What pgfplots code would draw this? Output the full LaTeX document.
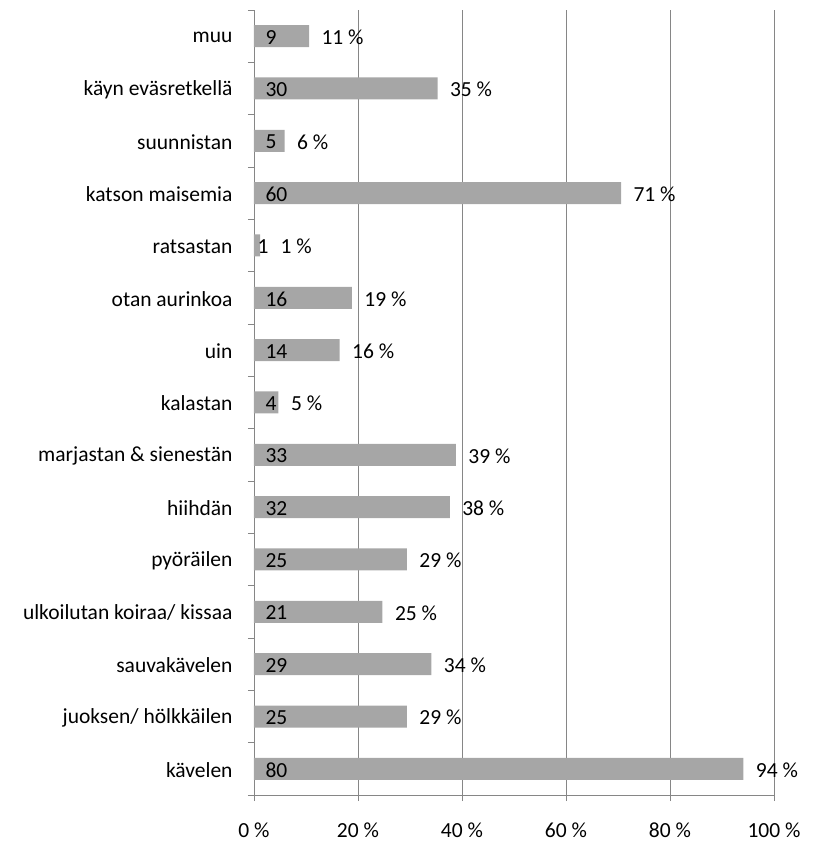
\documentclass[border=0pt]{standalone}
\usepackage{pgfplots}
\pgfplotsset{compat=1.18}
\usepackage{pgfplotstable}
\usepackage{fontspec}
\setmainfont{Carlito}
\definecolor{barg}{RGB}{166,166,166}
\definecolor{axg}{RGB}{134,134,134}
\pgfplotstableread{
y p n lab zero sh cs
0 94.12 80 94 0 9 8
1 29.41 25 29 0 9 8
2 34.12 29 34 0 9 8
3 24.71 21 25 0 9 8
4 29.41 25 29 0 9 8
5 37.65 32 38 0 9 8
6 38.82 33 39 0 9 8
7 4.71 4 5 0 9 8
8 16.47 14 16 0 9 8
9 18.82 16 19 0 9 8
10 1.18 1 1 0 17 0
11 70.59 60 71 0 9 8
12 5.88 5 6 0 9 8
13 35.29 30 35 0 9 8
14 10.59 9 11 0 9 8
}\data
\newcommand{\ff}{\fontsize{21.5bp}{26bp}\selectfont}
\begin{document}
\begin{tikzpicture}
\useasboundingbox (-254bp,-50bp) rectangle (563bp,795bp);
\begin{axis}[
  scale only axis, width=520bp, height=785bp,
  xmin=0, xmax=100, ymin=-0.5, ymax=14.5,
  axis x line*=bottom, axis y line*=left,
  axis line style={axg, line width=0.9pt},
  xtick={0,20,40,60,80,100},
  xticklabels={0 \%,20 \%,40 \%,60 \%,80 \%,100 \%},
  xmajorgrids, major grid style={axg, line width=0.9pt},
  tick align=outside, major tick length=6bp,
  tick style={axg, line width=0.9pt},
  ytick={-0.5,0.5,...,14.5}, yticklabels={},
  extra y ticks={0,1,2,3,4,5,6,7,8,9,10,11,12,13,14},
  extra y tick labels={kävelen,juoksen/ hölkkäilen,sauvakävelen,ulkoilutan koiraa/ kissaa,pyöräilen,hiihdän,marjastan \& sienestän,kalastan,uin,otan aurinkoa,ratsastan,katson maisemia,suunnistan,käyn eväsretkellä,muu},
  extra y tick style={major tick length=0pt, tick style={draw=none}},
  every tick label/.append style={font=\ff, text=black},
  yticklabel style={xshift=-18bp, yshift=-1bp},
  xticklabel style={yshift=-18bp},
  clip=false,
]
\addplot[xbar, bar width=22bp, fill=barg, draw=none,
  nodes near coords={\pgfplotspointmeta~\%},
  point meta=explicit symbolic,
  visualization depends on={\thisrow{sh} \as \sh},
  every node near coord/.append style={font=\ff, anchor=west, xshift=\sh*1bp, yshift=-1bp, text=black}]
  table[x=p, y=y, meta=lab] {\data};
\addplot[draw=none, mark=none,
  nodes near coords={\pgfplotspointmeta},
  point meta=explicit symbolic,
  visualization depends on={\thisrow{cs} \as \cs},
  every node near coord/.append style={font=\ff, anchor=west, xshift=\cs*1bp, yshift=-1bp, text=black}]
  table[x=zero, y=y, meta=n] {\data};
\end{axis}
\end{tikzpicture}
\end{document}
